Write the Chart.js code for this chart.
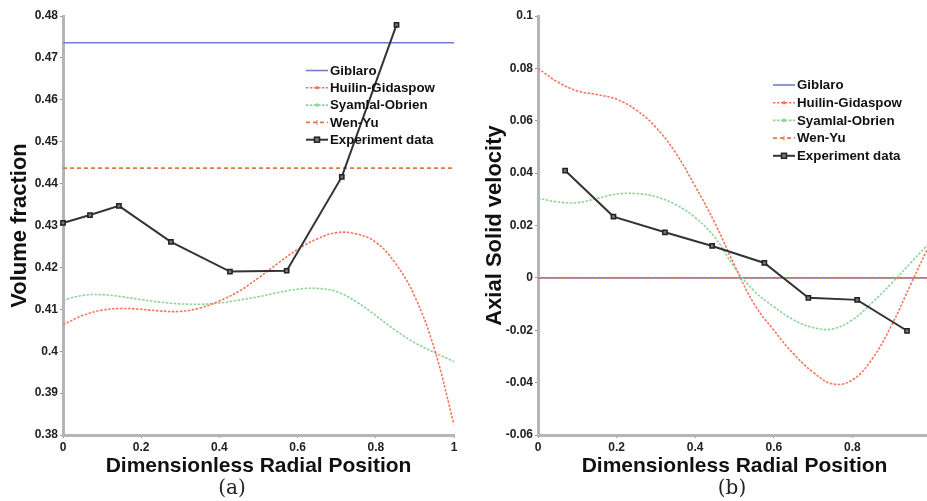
<!DOCTYPE html>
<html>
<head>
<meta charset="utf-8">
<script src="https://cdn.jsdelivr.net/npm/chart.js@4"></script>
<style>
  html, body { margin: 0; padding: 0; background: #fff; }
  #wrap { position: relative; width: 927px; height: 501px; overflow: hidden; }
  canvas { position: absolute; top: 0; }
  #chartA { left: 0; width: 470px; height: 501px; }
  #chartB { left: 470px; width: 480px; height: 501px; }
  .caption { position: absolute; top: 487px; transform: translate(-50%, -50%); font: 20px "DejaVu Serif", serif; color: #222; }
</style>
</head>
<body>
<div id="wrap">
  <canvas id="chartA" width="470" height="501"></canvas>
  <canvas id="chartB" width="480" height="501"></canvas>
  <div class="caption" style="left:232px">(a)</div>
  <div class="caption" style="left:732px">(b)</div>
</div>
<script>
// radial positions where the model curves are sampled
const radial = [0, 0.05, 0.1, 0.15, 0.2, 0.25, 0.3, 0.35, 0.4, 0.45, 0.5,
                0.55, 0.6, 0.65, 0.7, 0.75, 0.8, 0.85, 0.9, 0.95, 1];
const flatX = [0, 1];
const xTicks = [0, 0.2, 0.4, 0.6, 0.8, 1];

// (a) volume fraction
const volTicks = [0.38, 0.39, 0.4, 0.41, 0.42, 0.43, 0.44, 0.45, 0.46, 0.47, 0.48];
const volGiblaro = [0.4736, 0.4736];
const volWenYu = [0.4437, 0.4437];
const volHuilin = [0.4063, 0.4085, 0.4098, 0.4102, 0.4100, 0.4096, 0.4095, 0.4103, 0.4120, 0.4143, 0.4175,
                   0.4210, 0.4243, 0.4268, 0.4283, 0.4280, 0.4260, 0.4210, 0.4130, 0.4005, 0.3825];
const volSyamlal = [0.4122, 0.4133, 0.4135, 0.4130, 0.4123, 0.4117, 0.4113, 0.4112, 0.4115, 0.4122, 0.4130,
                    0.4140, 0.4148, 0.4150, 0.4142, 0.4118, 0.4085, 0.4050, 0.4020, 0.3997, 0.3975];
const volExpX = [0, 0.069, 0.143, 0.276, 0.427, 0.572, 0.713, 0.853];
const volExp = [0.4306, 0.4325, 0.4347, 0.4261, 0.419, 0.4192, 0.4416, 0.4779];

// (b) axial solid velocity
const velTicks = [-0.06, -0.04, -0.02, 0, 0.02, 0.04, 0.06, 0.08, 0.1];
const velGiblaro = [0, 0];
const velWenYu = [0, 0];
const velHuilin = [0.0800, 0.0748, 0.0714, 0.0700, 0.0682, 0.0641, 0.0575, 0.0478, 0.0350, 0.0210, 0.0048,
                   -0.0100, -0.0200, -0.0290, -0.0360, -0.0405, -0.0390, -0.0310, -0.0180, -0.0020, 0.0140];
const velSyamlal = [0.0304, 0.0290, 0.0287, 0.0303, 0.0320, 0.0322, 0.0310, 0.0280, 0.0230, 0.0155, 0.0040,
                    -0.0050, -0.0110, -0.0160, -0.0190, -0.0195, -0.0160, -0.0095, -0.0020, 0.0060, 0.0140];
const velExpX = [0.069, 0.192, 0.323, 0.443, 0.576, 0.688, 0.812, 0.939];
const velExp = [0.041, 0.0234, 0.0174, 0.0122, 0.0057, -0.0076, -0.0084, -0.0202];

Chart.defaults.font.family = '"Liberation Sans", Arial, sans-serif';

const pts = (xs, ys) => xs.map((x, i) => ({ x: x, y: ys[i] }));

// small legend drawn inside the plot, line sample + marker + label
const inlineLegend = {
  id: 'inlineLegend',
  afterDraw(chart, args, opts) {
    const ctx = chart.ctx;
    ctx.save();
    ctx.font = 'bold 13.3px "Liberation Sans", Arial, sans-serif';
    ctx.textBaseline = 'middle';
    chart.data.datasets.forEach((ds, i) => {
      const x = opts.x;
      const y = opts.y + i * opts.rowHeight;
      const mid = x + opts.lineLength / 2;
      ctx.strokeStyle = ds.borderColor;
      ctx.lineWidth = ds.borderWidth;
      ctx.setLineDash(ds.borderDash || []);
      ctx.beginPath();
      ctx.moveTo(x, y);
      ctx.lineTo(x + opts.lineLength, y);
      ctx.stroke();
      ctx.setLineDash([]);
      if (ds.legendMarker === 'dot') {
        ctx.fillStyle = ds.borderColor;
        ctx.beginPath();
        ctx.arc(mid, y, 1.8, 0, Math.PI * 2);
        ctx.fill();
      } else if (ds.legendMarker === 'plus') {
        ctx.lineWidth = 1;
        ctx.beginPath();
        ctx.moveTo(mid, y - 2.5);
        ctx.lineTo(mid, y + 2.5);
        ctx.stroke();
      } else if (ds.legendMarker === 'square') {
        ctx.fillStyle = ds.pointBackgroundColor;
        ctx.strokeStyle = ds.pointBorderColor;
        ctx.lineWidth = 1.5;
        ctx.fillRect(mid - 2.5, y - 2.5, 5, 5);
        ctx.strokeRect(mid - 2.5, y - 2.5, 5, 5);
      }
      ctx.fillStyle = '#111';
      ctx.fillText(ds.label, x + opts.lineLength + 2, y + 0.5);
    });
    ctx.restore();
  }
};

// lower "order" is painted later, so the dashed Wen-Yu line sits over Giblaro
function buildDatasets(giblaro, huilin, syamlal, wenyu, expX, exp) {
  return [
    {
      label: 'Giblaro', data: pts(flatX, giblaro),
      borderColor: '#7080d0', borderWidth: 1.6, pointRadius: 0, order: 3
    },
    {
      label: 'Huilin-Gidaspow', data: pts(radial, huilin),
      borderColor: '#f4765e', borderWidth: 1.6, borderDash: [2.5, 1.5], pointRadius: 0,
      tension: 0.4, legendMarker: 'dot', order: 2
    },
    {
      label: 'Syamlal-Obrien', data: pts(radial, syamlal),
      borderColor: '#8ed49a', borderWidth: 1.6, borderDash: [2.5, 1.5], pointRadius: 0,
      tension: 0.4, legendMarker: 'dot', order: 2
    },
    {
      label: 'Wen-Yu', data: pts(flatX, wenyu),
      borderColor: '#e07a4e', borderWidth: 1.6, borderDash: [4, 3], pointRadius: 0,
      legendMarker: 'plus', order: 2
    },
    {
      label: 'Experiment data', data: pts(expX, exp),
      borderColor: '#333', borderWidth: 2, tension: 0,
      pointStyle: 'rect', pointRadius: 3, pointBackgroundColor: '#777', pointBorderColor: '#222',
      pointBorderWidth: 1.5, legendMarker: 'square', clip: false, order: 1
    }
  ];
}

function makeChart(id, cfg) {
  const axisLine = { color: '#b4b4bc', width: 3 };
  const tickFont = { size: 12, weight: 'bold' };
  return new Chart(document.getElementById(id).getContext('2d'), {
    type: 'line',
    data: { datasets: cfg.datasets },
    options: {
      responsive: false,
      animation: false,
      devicePixelRatio: 1,
      layout: { padding: { left: 0, top: 16, right: cfg.rightPad, bottom: 0 } },
      plugins: {
        legend: { display: false },
        tooltip: { enabled: false },
        inlineLegend: cfg.legend
      },
      scales: {
        x: {
          type: 'linear', min: 0, max: 1,
          afterBuildTicks: s => { s.ticks = xTicks.map(v => ({ value: v })); },
          afterFit: s => { s.height = 66; },
          border: axisLine,
          grid: { drawOnChartArea: false, tickLength: 3, tickColor: '#999' },
          ticks: { padding: 2, color: '#222', font: tickFont, maxRotation: 0, autoSkip: false, callback: v => String(v) },
          title: {
            display: true, text: 'Dimensionless Radial Position', color: '#111',
            font: { size: 21, weight: 'bold' }, padding: { top: 0, bottom: 22 }
          }
        },
        y: {
          type: 'linear', min: cfg.yTicks[0], max: cfg.yTicks[cfg.yTicks.length - 1],
          afterBuildTicks: s => { s.ticks = cfg.yTicks.map(v => ({ value: v })); },
          afterFit: s => { s.width = cfg.yWidth; },
          border: axisLine,
          grid: { drawOnChartArea: false, tickLength: 3, tickColor: '#999' },
          ticks: { padding: 2, color: '#222', font: tickFont, callback: v => String(v) },
          title: {
            display: true, text: cfg.yTitle, color: '#111',
            font: { size: 22, weight: 'bold' }, padding: { top: cfg.yTitlePad, bottom: 0 }
          }
        }
      }
    },
    plugins: [inlineLegend]
  });
}

document.addEventListener('DOMContentLoaded', () => {
  makeChart('chartA', {
    datasets: buildDatasets(volGiblaro, volHuilin, volSyamlal, volWenYu, volExpX, volExp),
    yTicks: volTicks,
    yTitle: 'Volume fraction',
    yWidth: 63,
    yTitlePad: 7,
    rightPad: 16,
    legend: { x: 306, y: 70.5, rowHeight: 17.3, lineLength: 22 }
  });

  makeChart('chartB', {
    datasets: buildDatasets(velGiblaro, velHuilin, velSyamlal, velWenYu, velExpX, velExp),
    yTicks: velTicks,
    yTitle: 'Axial Solid velocity',
    yWidth: 68,
    yTitlePad: 12,
    rightPad: 19,
    legend: { x: 303, y: 85, rowHeight: 17.7, lineLength: 22 }
  });
});
</script>
</body>
</html>
